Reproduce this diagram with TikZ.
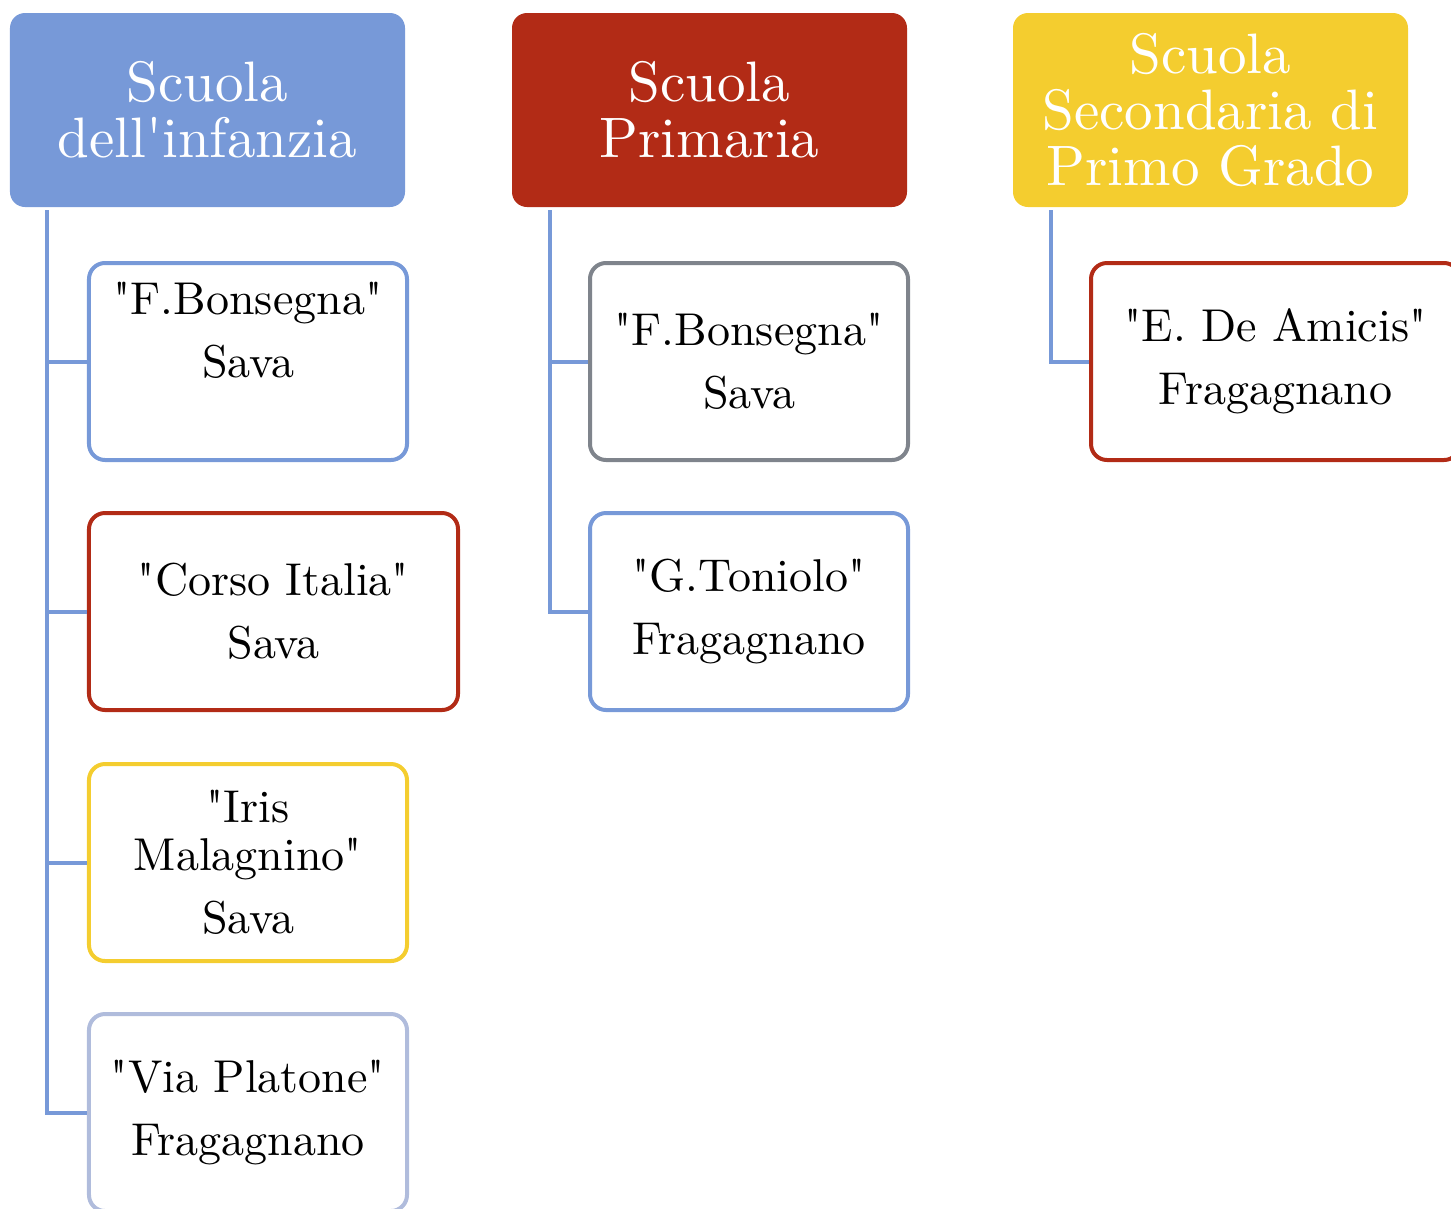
\documentclass[tikz,border=0pt]{standalone}
\definecolor{cblue}{HTML}{7799D8}
\definecolor{cred}{HTML}{B22B16}
\definecolor{cyellow}{HTML}{F4CD2F}
\definecolor{cgray}{HTML}{7F848C}
\definecolor{clight}{HTML}{B0BCDC}
\font\lmtitle="[lmroman10-regular]" at 57bp
\font\lmbody="[lmroman10-regular]" at 46bp
\begin{document}
\begin{tikzpicture}[x=1bp,y=-1bp,
  title/.style={rounded corners=15bp, fill=#1, text=white, minimum width=395bp,
    minimum height=194bp, inner sep=0pt, align=center,
    font=\fontsize{57bp}{56bp}\selectfont\lmtitle},
  school/.style={draw=#1, line width=4bp, fill=white, rounded corners=16bp,
    minimum width=318bp, minimum height=197bp, inner sep=0pt, align=center,
    font=\fontsize{46bp}{48bp}\selectfont\lmbody},
  conn/.style={draw=cblue, line width=4bp, line join=miter}]
\useasboundingbox (0,0) rectangle (1451,1208);
\clip (0,0) rectangle (1451,1208);

\node[title=cblue] (t1) at (207.5,110) {Scuola\\dell'infanzia};
\node[title=cred] (t2) at (709.5,110) {Scuola\\Primaria};
\node[title=cyellow] (t3) at (1210.5,110) {Scuola\\Secondaria di\\Primo Grado};

\coordinate (p1) at ([xshift=-160bp,yshift=-3bp]t1.south);
\coordinate (p2) at ([xshift=-160bp,yshift=-3bp]t2.south);
\coordinate (p3) at ([xshift=-160bp,yshift=-3bp]t3.south);

\node[school=cblue] (a1) at (248,361.5) {"F.Bonsegna"\\[15bp]Sava\\[15bp]\mbox{}};
\node[school=cred, minimum width=369bp] (a2) at (273.5,611.5) {"Corso Italia"\\[15bp]Sava};
\node[school=cyellow] (a3) at (248,862.5) {"Iris\\Malagnino"\\[15bp]Sava};
\node[school=clight] (a4) at (248,1112.5) {"Via Platone"\\[15bp]Fragagnano};

\node[school=cgray] (b1) at (749,361.5) {"F.Bonsegna"\\[15bp]Sava};
\node[school=cblue] (b2) at (749,611.5) {"G.Toniolo"\\[15bp]Fragagnano};

\node[school=cred, minimum width=369bp] (c1) at (1275.5,361.5) {"E. De Amicis"\\[15bp]Fragagnano};

\draw[conn] (p1) |- (a1.west);
\draw[conn] (p1) |- (a2.west);
\draw[conn] (p1) |- (a3.west);
\draw[conn] (p1) |- (a4.west);
\draw[conn] (p2) |- (b1.west);
\draw[conn] (p2) |- (b2.west);
\draw[conn] (p3) |- (c1.west);
\end{tikzpicture}
\end{document}
